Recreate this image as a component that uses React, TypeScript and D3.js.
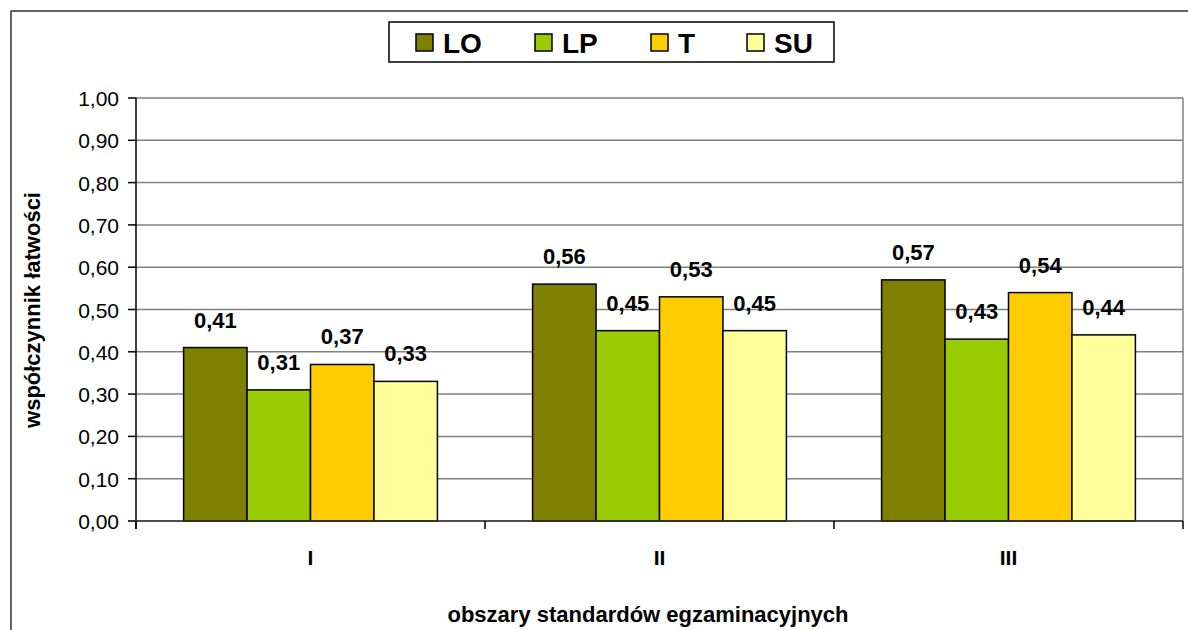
import React from "react";
import * as d3 from "d3";

const categories = ["I", "II", "III"];
const seriesNames = ["LO", "LP", "T", "SU"];
const seriesColors = ["#808000", "#99CC00", "#FFCC00", "#FFFF99"];
const valuesLO = [0.41, 0.56, 0.57];
const valuesLP = [0.31, 0.45, 0.43];
const valuesT = [0.37, 0.53, 0.54];
const valuesSU = [0.33, 0.45, 0.44];
const yTicks = [0, 0.1, 0.2, 0.3, 0.4, 0.5, 0.6, 0.7, 0.8, 0.9, 1.0];

const seriesValues = [valuesLO, valuesLP, valuesT, valuesSU];

const W = 1188;
const H = 630;
const plot = { left: 136, right: 1183, top: 98, bottom: 521 };
const FONT = "'Liberation Sans', Arial, sans-serif";
const fmt = (v: number) => v.toFixed(2).replace(".", ",");

export default function App() {
  const y = d3.scaleLinear().domain([0, 1]).range([plot.bottom, plot.top]);
  const x = d3.scaleBand<string>().domain(categories).range([plot.left, plot.right]).padding(0);
  const cw = x.bandwidth();
  const barW = cw / (seriesNames.length + 1.5);
  const gap = barW * 0.75;
  const inner = d3
    .scaleBand<string>()
    .domain(seriesNames)
    .range([gap, cw - gap])
    .padding(0);

  const legendX = [416, 535, 651, 747];

  return (
    <svg
      width={W}
      height={H}
      style={{ position: "fixed", left: 0, top: 0, background: "#fff" }}
      fontFamily={FONT}
    >
      <rect x={0} y={0} width={W} height={H} fill="#fff" />
      <rect x={11} y={11} width={W + 20} height={H + 20} fill="none" stroke="#333" strokeWidth={1.5} />

      {yTicks.map((t) => (
        <line
          key={"g" + t}
          x1={plot.left}
          x2={plot.right}
          y1={y(t)}
          y2={y(t)}
          stroke="#808080"
          strokeWidth={1.5}
        />
      ))}
      <line x1={plot.right} x2={plot.right} y1={plot.top} y2={plot.bottom} stroke="#808080" strokeWidth={1.5} />

      {categories.map((c, ci) =>
        seriesNames.map((s, si) => {
          const v = seriesValues[si][ci];
          const bx = (x(c) as number) + (inner(s) as number);
          return (
            <g key={c + s}>
              <rect
                x={bx}
                y={y(v)}
                width={inner.bandwidth()}
                height={y(0) - y(v)}
                fill={seriesColors[si]}
                stroke="#000"
                strokeWidth={1.5}
              />
              <text
                x={bx + inner.bandwidth() / 2}
                y={y(v) - 20}
                textAnchor="middle"
                fontWeight="bold"
                fontSize={22}
                fill="#000"
              >
                {fmt(v)}
              </text>
            </g>
          );
        })
      )}

      <line x1={plot.left} x2={plot.left} y1={plot.top} y2={plot.bottom + 8} stroke="#000" strokeWidth={1.5} />
      {yTicks.map((t) => (
        <g key={"t" + t}>
          <line x1={plot.left - 8} x2={plot.left} y1={y(t)} y2={y(t)} stroke="#000" strokeWidth={1.5} />
          <text x={119} y={y(t) + 8} textAnchor="end" fontSize={21} fill="#000">
            {fmt(t)}
          </text>
        </g>
      ))}

      <line x1={plot.left - 8} x2={plot.right} y1={plot.bottom} y2={plot.bottom} stroke="#333" strokeWidth={1.5} />
      {categories.map((c) => (
        <line
          key={"xt" + c}
          x1={x(c) as number}
          x2={x(c) as number}
          y1={plot.bottom}
          y2={plot.bottom + 8}
          stroke="#000"
          strokeWidth={1.5}
        />
      ))}
      <line x1={plot.right} x2={plot.right} y1={plot.bottom} y2={plot.bottom + 8} stroke="#000" strokeWidth={1.5} />
      {categories.map((c) => (
        <text
          key={"xl" + c}
          x={(x(c) as number) + cw / 2}
          y={565}
          textAnchor="middle"
          fontWeight="bold"
          fontSize={21}
          fill="#000"
        >
          {c}
        </text>
      ))}

      <text x={648} y={622} textAnchor="middle" fontWeight="bold" fontSize={22} fill="#000">
        obszary standardów egzaminacyjnych
      </text>
      <text
        transform={`translate(40, 310) rotate(-90)`}
        textAnchor="middle"
        fontWeight="bold"
        fontSize={22}
        fill="#000"
      >
        współczynnik łatwości
      </text>

      <rect x={389} y={22} width={445} height={40} fill="#fff" stroke="#000" strokeWidth={1.5} />
      {seriesNames.map((s, i) => (
        <g key={"lg" + s}>
          <rect x={legendX[i]} y={34} width={17} height={17} fill={seriesColors[i]} stroke="#000" strokeWidth={1.5} />
          <text x={legendX[i] + 27} y={53} fontWeight="bold" fontSize={28} fill="#000">
            {s}
          </text>
        </g>
      ))}
    </svg>
  );
}
